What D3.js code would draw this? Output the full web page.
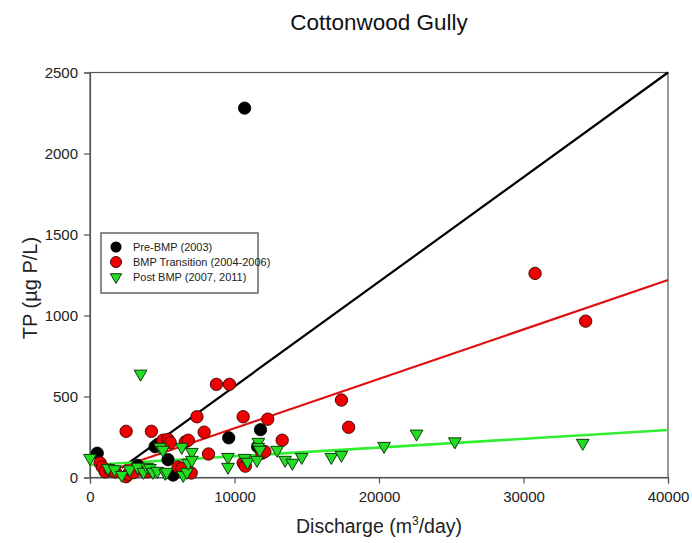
<!DOCTYPE html>
<html><head><meta charset="utf-8">
<script src="https://cdn.jsdelivr.net/npm/d3@7"></script>
<style>body{margin:0;background:#fff}svg{display:block;font-family:Arial,"Liberation Sans",sans-serif}</style>
</head><body><svg id="c" width="692" height="543"></svg>
<script>
const title = "Cottonwood Gully";
const xTicks = [0, 10000, 20000, 30000, 40000];
const yTicks = [0, 500, 1000, 1500, 2000, 2500];
const seriesNames = ["Pre-BMP (2003)", "BMP Transition (2004-2006)", "Post BMP (2007, 2011)"];

const preX = [500, 3300, 4500, 4700, 5400, 5750, 9600, 10700, 11600, 11800];
const preY = [150, 75, 190, 205, 110, 15, 245, 2280, 190, 295];

const redX = [700, 850, 1050, 1400, 1750, 2500, 2650, 3000, 3600, 3950, 2500, 4250, 5050, 5400, 5550, 6100, 6350, 6600, 6800, 7000, 7400, 7900, 8200, 8750, 9650, 10600, 10600, 10750, 11900, 12100, 12300, 13300, 17400, 17900, 30800, 34300];
const redY = [90, 65, 35, 45, 35, 5, 20, 30, 45, 35, 285, 285, 230, 235, 215, 65, 55, 220, 230, 28, 375, 280, 145, 575, 575, 375, 90, 70, 150, 160, 360, 230, 478, 310, 1260, 965];

const postX = [0, 1250, 1700, 2200, 2750, 3300, 3500, 3700, 3950, 4150, 4350, 4650, 4850, 5050, 5200, 5300, 6350, 6450, 6700, 6800, 7050, 7050, 9550, 9550, 10700, 10900, 11550, 11650, 11650, 11750, 12950, 13500, 14000, 14650, 16700, 17400, 20350, 22600, 25250, 34100];
const postY = [120, 58, 50, 15, 50, 65, 640, 34, 65, 58, 34, 40, 188, 170, 28, 34, 188, 15, 34, 90, 157, 108, 126, 65, 120, 96, 108, 219, 188, 170, 170, 108, 90, 126, 126, 139, 194, 270, 222, 213];

// fitted regression lines (endpoints)
const preFitX = [2200, 40000], preFitY = [59, 2500];
const redFitX = [2000, 40000], redFitY = [60, 1219];
const postFitX = [0, 40000], postFitY = [77, 293];

const svg = d3.select("#c");
const L = 90, R = 668, T = 72.5, B = 477.5;
const x = d3.scaleLinear().domain([0, 40000]).range([L, R]);
const y = d3.scaleLinear().domain([0, 2500]).range([B, T]);

svg.append("text").attr("x", 379).attr("y", 30).attr("text-anchor", "middle")
  .attr("font-size", 22.5).attr("fill", "#111").text(title);

// frame
svg.append("rect").attr("x", L).attr("y", T).attr("width", R - L).attr("height", B - T)
  .attr("fill", "none").attr("stroke", "#555").attr("stroke-width", 1.2);

const xa = svg.append("g").attr("transform", `translate(0,${B})`)
  .call(d3.axisBottom(x).tickValues(xTicks).tickFormat(d3.format("d")).tickSize(6).tickPadding(8));
const ya = svg.append("g").attr("transform", `translate(${L},0)`)
  .call(d3.axisLeft(y).tickValues(yTicks).tickFormat(d3.format("d")).tickSize(6).tickPadding(6));
[xa, ya].forEach(a => {
  a.select(".domain").attr("stroke", "#555").attr("stroke-width", 1.2);
  a.selectAll(".tick line").attr("stroke", "#555").attr("stroke-width", 1.2);
  a.selectAll("text").attr("font-size", 15).attr("fill", "#222").attr("font-family", "Arial, 'Liberation Sans', sans-serif");
});

// axis titles
const xl = svg.append("text").attr("x", 379).attr("y", 533).attr("text-anchor", "middle")
  .attr("font-size", 19.5).attr("fill", "#222");
xl.append("tspan").text("Discharge (m");
xl.append("tspan").attr("dy", -8).attr("font-size", 12).text("3");
xl.append("tspan").attr("dy", 8).text("/day)");
svg.append("text").attr("transform", "translate(37,288) rotate(-90)").attr("text-anchor", "middle")
  .attr("font-size", 20).attr("fill", "#222").text("TP (µg P/L)");

const line = d3.line().x(d => x(d[0])).y(d => y(d[1]));
const tri = d3.symbol().type(d3.symbolTriangle).size(70);

// fit lines
svg.append("path").datum(d3.zip(preFitX, preFitY)).attr("d", line).attr("stroke", "#000").attr("stroke-width", 2.2).attr("fill", "none");
svg.append("path").datum(d3.zip(redFitX, redFitY)).attr("d", line).attr("stroke", "#e01010").attr("stroke-width", 2.2).attr("fill", "none");
svg.append("path").datum(d3.zip(postFitX, postFitY)).attr("d", line).attr("stroke", "#33ee33").attr("stroke-width", 2.6).attr("fill", "none");

// points
const g = svg.append("g");
g.selectAll(".pre").data(d3.zip(preX, preY)).enter().append("circle")
  .attr("cx", d => x(d[0])).attr("cy", d => y(d[1])).attr("r", 6.2)
  .attr("fill", "#000").attr("stroke", "#000").attr("stroke-width", 0.8);
g.selectAll(".red").data(d3.zip(redX, redY)).enter().append("circle")
  .attr("cx", d => x(d[0])).attr("cy", d => y(d[1])).attr("r", 6.2)
  .attr("fill", "#ee0000").attr("stroke", "#3a0000").attr("stroke-width", 0.9);
g.selectAll(".post").data(d3.zip(postX, postY)).enter().append("path")
  .attr("d", tri).attr("transform", d => `translate(${x(d[0])},${y(d[1])}) rotate(180)`)
  .attr("fill", "#22dd22").attr("stroke", "#0d3a0d").attr("stroke-width", 1);

// legend
const lg = svg.append("g");
lg.append("rect").attr("x", 101).attr("y", 233).attr("width", 157).attr("height", 60)
  .attr("fill", "#fff").attr("stroke", "#666").attr("stroke-width", 1.5);
const rows = [247, 262, 277];
lg.append("circle").attr("cx", 116).attr("cy", rows[0]).attr("r", 5.5).attr("fill", "#000");
lg.append("circle").attr("cx", 116).attr("cy", rows[1]).attr("r", 5.5).attr("fill", "#ee0000").attr("stroke", "#3a0000").attr("stroke-width", 0.9);
lg.append("path").attr("d", d3.symbol().type(d3.symbolTriangle).size(55))
  .attr("transform", `translate(116,${rows[2]}) rotate(180)`).attr("fill", "#22dd22").attr("stroke", "#0d3a0d").attr("stroke-width", 1);
seriesNames.forEach((n, i) => {
  lg.append("text").attr("x", 133).attr("y", rows[i] + 4).attr("font-size", 11).attr("fill", "#222").text(n);
});
</script></body></html>
